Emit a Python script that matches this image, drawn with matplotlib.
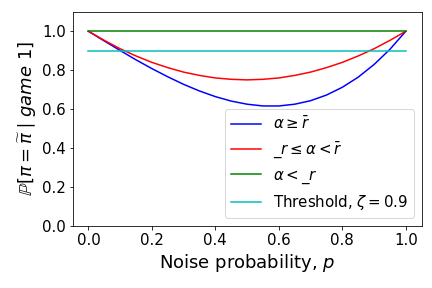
import numpy as np
import matplotlib
matplotlib.use('Agg')
import matplotlib.pyplot as plt

# noise probability grid
p = [0.00, 0.05, 0.10, 0.15, 0.20, 0.25, 0.30, 0.35, 0.40, 0.45, 0.50,
     0.55, 0.60, 0.65, 0.70, 0.75, 0.80, 0.85, 0.90, 0.95, 1.00]

# alpha >= r_bar
high = [1.000, 0.950, 0.901, 0.853, 0.808, 0.766, 0.727, 0.693, 0.664, 0.641, 0.625,
        0.616, 0.616, 0.625, 0.643, 0.672, 0.712, 0.764, 0.829, 0.907, 1.000]
# r_low <= alpha < r_bar
mid = [1.000, 0.953, 0.910, 0.873, 0.840, 0.813, 0.790, 0.773, 0.760, 0.753, 0.750,
       0.753, 0.760, 0.773, 0.790, 0.813, 0.840, 0.873, 0.910, 0.953, 1.000]
# alpha < r_low
low = [1.0] * len(p)
threshold = 0.9

fig = plt.figure(figsize=(6, 4), dpi=72)
ax = fig.add_axes([0.168, 0.216, 0.808, 0.743])

ax.plot(p, high, 'b', label=r'$\alpha \geq \bar{r}$')
ax.plot(p, mid, 'r', label=r'$\_r \leq \alpha < \bar{r}$')
ax.plot(p, low, 'g', label=r'$\alpha < \_r$')
ax.plot(p, [threshold] * len(p), 'c', label=r'Threshold, $\zeta = 0.9$')

ax.set_ylim(0, 1.1)
ax.set_xlabel('Noise probability, $p$', fontsize=18)
ax.set_ylabel(r'$\mathbb{P}[\pi = \widetilde{\pi} \mid game\ 1]$', fontsize=18)
ax.tick_params(labelsize=15)
ax.legend(loc='lower right', fontsize=15)

fig.savefig('out.png')
